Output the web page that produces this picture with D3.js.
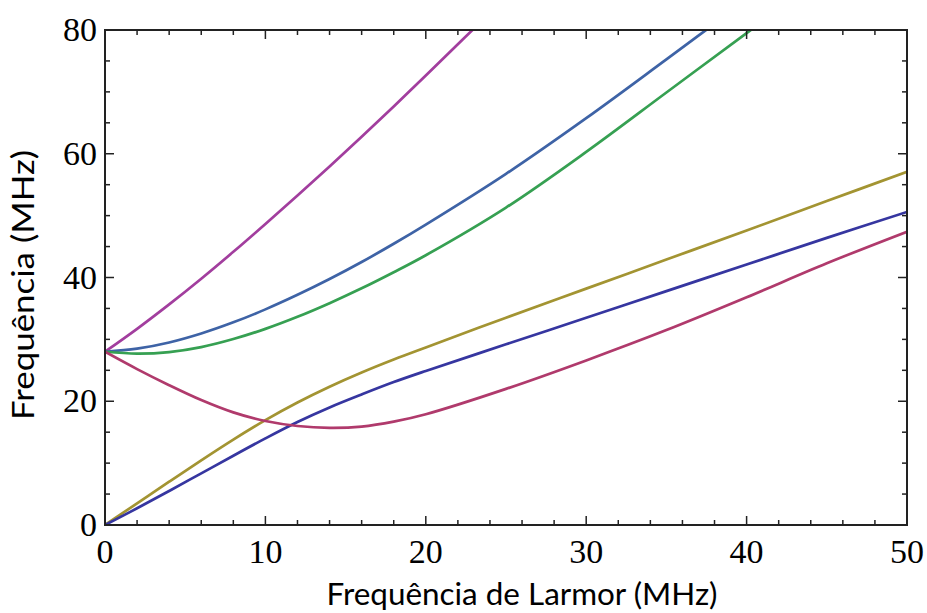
<!DOCTYPE html>
<html>
<head>
<meta charset="utf-8">
<script src="https://cdn.jsdelivr.net/npm/d3@7"></script>
<style>
  body { margin: 0; background: #fff; }
</style>
</head>
<body>
<svg id="chart" width="927" height="613"></svg>
<script>
// Larmor frequency grid (MHz)
var larmor = [0, 2, 4, 6, 8, 10, 12, 14, 16, 18, 20, 25, 30, 35, 40, 45, 50];

// transition frequencies (MHz)
var upperMagenta = [28, 31.7, 35.65, 39.8, 44.15, 48.65, 53.25, 57.95, 62.75, 67.65, 72.65, 85.3];
var upperBlue    = [28, 28.5, 29.5, 30.95, 32.75, 34.85, 37.2, 39.75, 42.5, 45.45, 48.55, 56.75, 65.75, 75.25, 84.85];
var upperGreen   = [28, 27.7, 27.95, 28.75, 30.05, 31.7, 33.65, 35.85, 38.25, 40.85, 43.6, 51.3, 60.3, 69.9, 79.5, 89];
var olive        = [0, 3.5, 7.0, 10.45, 13.8, 16.95, 19.8, 22.35, 24.65, 26.75, 28.7, 33.5, 38.2, 42.9, 47.6, 52.35, 57.1];
var darkBlue     = [0, 2.7, 5.5, 8.35, 11.2, 14.0, 16.65, 19.0, 21.1, 23.1, 24.9, 29.2, 33.5, 37.8, 42.1, 46.4, 50.6];
var crimson      = [28, 25.2, 22.6, 20.2, 18.2, 16.8, 16.0, 15.7, 15.9, 16.7, 17.9, 22.0, 26.6, 31.5, 36.8, 42.3, 47.4];

var xTicks = [0, 10, 20, 30, 40, 50];
var yTicks = [0, 20, 40, 60, 80];

var series = [
  { values: upperMagenta, color: "#a23e9e" },
  { values: upperBlue,    color: "#3e63a6" },
  { values: upperGreen,   color: "#36a052" },
  { values: olive,        color: "#a39432" },
  { values: darkBlue,     color: "#3636a0" },
  { values: crimson,      color: "#b03a6c" }
];

var svg = d3.select("#chart");
var plot = { left: 105, right: 907, top: 30, bottom: 525 };

var x = d3.scaleLinear().domain([0, 50]).range([plot.left, plot.right]);
var y = d3.scaleLinear().domain([0, 80]).range([plot.bottom, plot.top]);

svg.append("clipPath").attr("id", "plotClip")
  .append("rect")
    .attr("x", plot.left).attr("y", plot.top)
    .attr("width", plot.right - plot.left).attr("height", plot.bottom - plot.top);

var line = d3.line()
  .x(function (d) { return x(d[0]); })
  .y(function (d) { return y(d[1]); })
  .curve(d3.curveCatmullRom.alpha(0.5));

// curves
svg.append("g")
    .attr("clip-path", "url(#plotClip)")
  .selectAll("path").data(series).enter().append("path")
    .attr("fill", "none")
    .attr("stroke", d => d.color)
    .attr("stroke-width", 2.7)
    .attr("d", d => line(d.values.map((v, i) => [larmor[i], v])));

// frame with inward ticks on every side
var xMinor = d3.range(0, 51, 2);
var yMinor = d3.range(0, 81, 5);

function tickLen(v, step) { return v % step === 0 ? 9 : 5; }

var ticks = svg.append("g").attr("stroke", "#222").attr("stroke-width", 1.5);
xMinor.forEach(function (v) {
  var L = tickLen(v, 10);
  ticks.append("line").attr("x1", x(v)).attr("x2", x(v)).attr("y1", plot.bottom).attr("y2", plot.bottom - L);
  ticks.append("line").attr("x1", x(v)).attr("x2", x(v)).attr("y1", plot.top).attr("y2", plot.top + L);
});
yMinor.forEach(function (v) {
  var L = tickLen(v, 20);
  ticks.append("line").attr("y1", y(v)).attr("y2", y(v)).attr("x1", plot.left).attr("x2", plot.left + L);
  ticks.append("line").attr("y1", y(v)).attr("y2", y(v)).attr("x1", plot.right).attr("x2", plot.right - L);
});

svg.append("rect")
  .attr("x", plot.left).attr("y", plot.top)
  .attr("width", plot.right - plot.left).attr("height", plot.bottom - plot.top)
  .attr("fill", "none")
  .attr("stroke", "#222")
  .attr("stroke-width", 2);

// tick labels
svg.append("g")
  .selectAll("text").data(xTicks).enter().append("text")
    .attr("x", d => x(d))
    .attr("y", 563)
    .attr("text-anchor", "middle")
    .style("font-family", "'Liberation Serif', 'DejaVu Serif', serif")
    .style("font-size", "34px")
    .text(d => d);

svg.append("g")
  .selectAll("text").data(yTicks).enter().append("text")
    .attr("x", 97)
    .attr("y", d => y(d) + 11)
    .attr("text-anchor", "end")
    .style("font-family", "'Liberation Serif', 'DejaVu Serif', serif")
    .style("font-size", "34px")
    .text(d => d);

// axis titles
svg.append("text")
  .attr("x", 522)
  .attr("y", 605)
  .attr("text-anchor", "middle")
  .attr("textLength", 391)
  .attr("lengthAdjust", "spacingAndGlyphs")
  .style("font-family", "Lato, 'Open Sans', sans-serif")
  .style("font-size", "30px")
  .text("Frequência de Larmor (MHz)");

svg.append("text")
  .attr("transform", "translate(34,285) rotate(-90)")
  .attr("text-anchor", "middle")
  .attr("textLength", 270)
  .attr("lengthAdjust", "spacingAndGlyphs")
  .style("font-family", "Lato, 'Open Sans', sans-serif")
  .style("font-size", "30px")
  .text("Frequência (MHz)");
</script>
</body>
</html>
